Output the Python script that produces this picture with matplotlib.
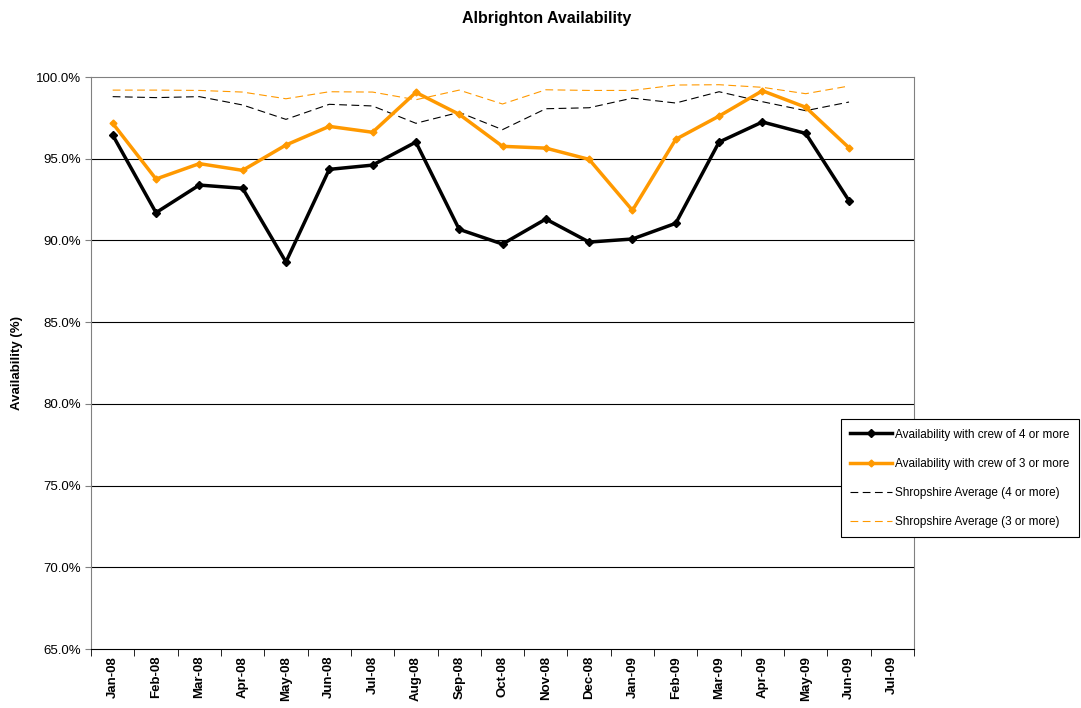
import matplotlib
matplotlib.use('Agg')
import matplotlib.pyplot as plt
from matplotlib.ticker import FuncFormatter, FixedLocator

plt.rcParams['font.family'] = ['Liberation Sans', 'DejaVu Sans']

months = ['Jan-08', 'Feb-08', 'Mar-08', 'Apr-08', 'May-08', 'Jun-08', 'Jul-08', 'Aug-08',
          'Sep-08', 'Oct-08', 'Nov-08', 'Dec-08', 'Jan-09', 'Feb-09', 'Mar-09', 'Apr-09',
          'May-09', 'Jun-09', 'Jul-09']

# values (Jul-09 has no data)
crew4 = [96.45, 91.70, 93.39, 93.19, 88.68, 94.35, 94.61, 96.02, 90.68, 89.78,
         91.31, 89.90, 90.09, 91.05, 96.02, 97.25, 96.55, 92.43]
crew3 = [97.17, 93.76, 94.70, 94.29, 95.84, 96.98, 96.62, 99.06, 97.72, 95.76,
         95.65, 94.96, 91.84, 96.19, 97.61, 99.16, 98.15, 95.67]
shrop4 = [98.80, 98.74, 98.80, 98.29, 97.41, 98.33, 98.23, 97.17, 97.84, 96.78,
          98.06, 98.12, 98.71, 98.41, 99.10, 98.49, 97.94, 98.47]
shrop3 = [99.20, 99.20, 99.18, 99.08, 98.67, 99.10, 99.08, 98.61, 99.20, 98.35,
          99.22, 99.18, 99.18, 99.51, 99.53, 99.37, 98.98, 99.45]

orange = '#FF9900'

fig = plt.figure(figsize=(10.81, 7.08), dpi=100)
ax = fig.add_axes([0.0842, 0.0833, 0.7613, 0.8079])

x = list(range(len(crew4)))
ax.plot(x, crew4, color='black', lw=2.5, marker='D', ms=4, label='Availability with crew of 4 or more', zorder=4)
ax.plot(x, crew3, color=orange, lw=2.5, marker='D', ms=3.5, label='Availability with crew of 3 or more', zorder=4)
ax.plot(x, shrop4, color='black', lw=0.8, dashes=(7, 4), label='Shropshire Average (4 or more)', zorder=3)
ax.plot(x, shrop3, color=orange, lw=0.8, dashes=(7, 4), label='Shropshire Average (3 or more)', zorder=3)

ax.set_xlim(-0.5, len(months) - 0.5)
ax.set_ylim(65, 100)
ax.set_yticks([65, 70, 75, 80, 85, 90, 95, 100])
ax.yaxis.set_major_formatter(FuncFormatter(lambda v, p: f'{v:.1f}%'))
ax.tick_params(axis='y', labelsize=9.5, length=4, color='#808080')
for v in [70, 75, 80, 85, 90, 95]:
    ax.axhline(v, color='black', lw=0.8, zorder=1)

ax.set_xticks(range(len(months)))
ax.set_xticklabels(months, rotation=90, fontsize=9.5, fontweight='bold')
ax.tick_params(axis='x', which='major', length=0, pad=5)
ax.xaxis.set_minor_locator(FixedLocator([i - 0.5 for i in range(len(months) + 1)]))
ax.tick_params(axis='x', which='minor', length=5, direction='out', color='black')

for s in ['top', 'right', 'left']:
    ax.spines[s].set_color('#808080')
ax.spines['bottom'].set_color('black')

ax.set_ylabel('Availability (%)', fontsize=9.5, fontweight='bold', labelpad=9)
fig.suptitle('Albrighton Availability', fontsize=11.5, fontweight='bold', x=0.506, y=0.985)

leg = fig.legend(loc='upper left', bbox_to_anchor=(0.778, 0.408), fontsize=8.5,
                 frameon=True, fancybox=False, edgecolor='black', framealpha=1,
                 labelspacing=1.45, handlelength=3.5, handletextpad=0.3, borderpad=0.8,
                 borderaxespad=0)
leg.get_frame().set_linewidth(0.8)

plt.savefig('out.png', dpi=100)
